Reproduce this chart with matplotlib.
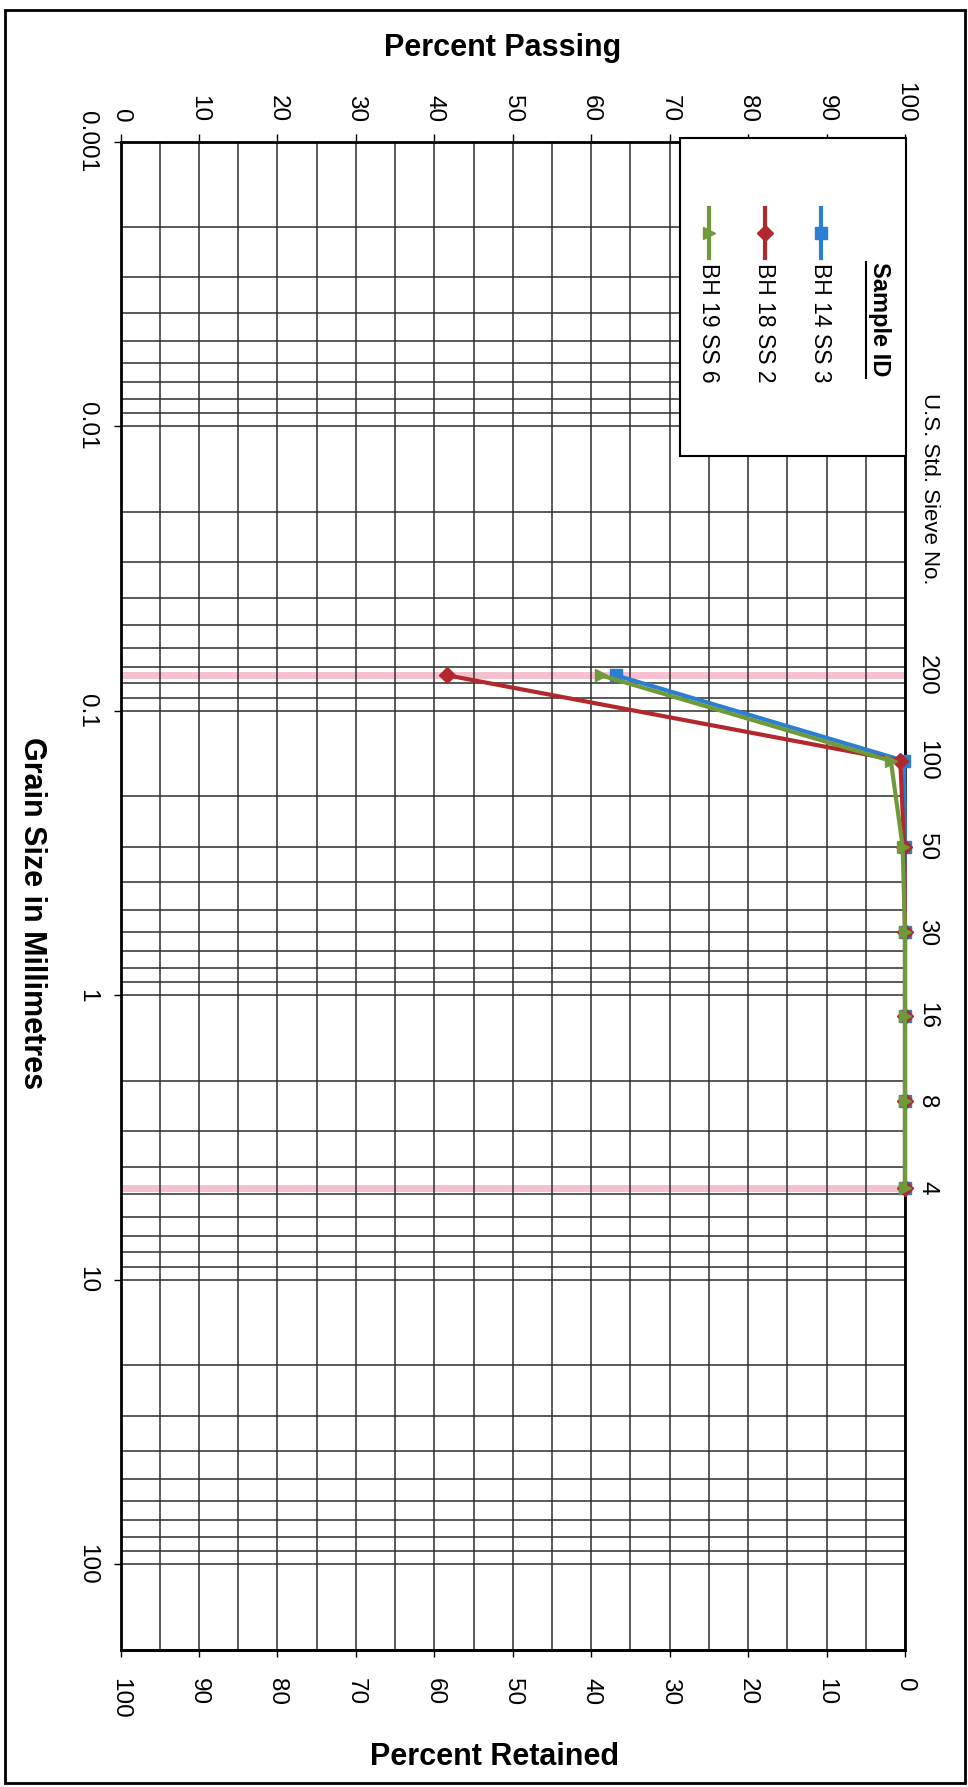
import matplotlib
matplotlib.use('Agg')
import matplotlib.pyplot as plt
import matplotlib.ticker as mticker
from matplotlib.transforms import Affine2D
from matplotlib.lines import Line2D
from matplotlib.patches import Rectangle

## sieve sizes and sample gradations
sieve_no = ['4', '8', '16', '30', '50', '100', '200']
sieve_mm = [4.75, 2.36, 1.18, 0.6, 0.3, 0.15, 0.075]
sample_ids = ['BH 14 SS 3', 'BH 18 SS 2', 'BH 19 SS 6']
passing_bh14 = [100, 100, 100, 100, 100, 99.9, 63.1]
passing_bh18 = [100, 100, 100, 100, 99.9, 99.4, 41.6]
passing_bh19 = [100, 100, 100, 100, 99.7, 98.2, 61.2]
size_ticks = [0.001, 0.01, 0.1, 1, 10, 100]
size_labels = ['0.001', '0.01', '0.1', '1', '10', '100']
pct_ticks = list(range(0, 101, 10))
ref_sizes = [0.075, 4.75]      # pink lines at #200 and #4 sieves

colors = ['#2a7fd4', '#b3282c', '#6f9a3a']
markers = ['s', 'D', '>']

W, H = 968, 1787
plt.rcParams['font.family'] = ['Liberation Sans', 'DejaVu Sans']
fig = plt.figure(figsize=(W/100, H/100), dpi=100)
## page pixel coords, origin top left
px = Affine2D().scale(1/W, -1/H).translate(0, 1) + fig.transFigure

ax = fig.add_axes([120.5/W, 1 - 1650/H, (905 - 120.5)/W, (1650 - 141.7)/H])
ax.set_xlim(0, 100)
ax.set_yscale('log')
ax.set_ylim(200, 0.001)

## grid
ax.set_xticks(pct_ticks)
ax.set_xticks(range(0, 101, 5), minor=True)
ax.set_yticks(size_ticks, size_labels)
ax.yaxis.set_minor_locator(mticker.LogLocator(base=10, subs=range(2, 10), numticks=20))
ax.yaxis.set_minor_formatter(mticker.NullFormatter())
ax.grid(which='both', color='#2e2e2e', lw=1.1)
for s in ax.spines.values():
    s.set_linewidth(2)

ax.tick_params(axis='x', which='major', top=True, bottom=False, labeltop=True,
               labelbottom=False, length=6, width=1, pad=8, labelsize=17.5,
               labelrotation=-90)
ax.tick_params(axis='y', which='major', length=5, width=1, pad=11,
               labelsize=17.5, labelrotation=-90)
ax.tick_params(which='minor', length=0)
for t in ax.get_yticklabels():
    t.set_va('center')

## percent retained along the bottom
sec = ax.secondary_xaxis('bottom', functions=(lambda p: 100 - p, lambda r: 100 - r))
sec.set_xticks(pct_ticks)
sec.tick_params(length=5, width=1, pad=15, labelsize=17.5, labelrotation=-90)
sec.spines['bottom'].set_linewidth(2)

## sieve numbers on the right
sec2 = ax.secondary_yaxis('right')
sec2.set_yticks(sieve_mm, sieve_no)
sec2.yaxis.set_minor_locator(mticker.NullLocator())
sec2.tick_params(length=0, pad=8, labelsize=17.5, labelrotation=-90)
for t in sec2.get_yticklabels():
    t.set_va('center')

for d in ref_sizes:
    ax.axhline(d, color='#f5bfce', lw=5, zorder=1)

for vals, c, m, name in zip([passing_bh14, passing_bh18, passing_bh19],
                            colors, markers, sample_ids):
    ax.plot(vals, sieve_mm, color=c, marker=m, lw=3, ms=8, label=name,
            clip_on=False, zorder=3)

## legend box, drawn by hand as it is turned on its side
fig.add_artist(Rectangle((680, 138), 226, 318, transform=px, fc='white',
                         ec='black', lw=1.5, zorder=5))
fig.text(880, 262, 'Sample ID', transform=px, rotation=-90, ha='center',
         va='top', fontsize=17, fontweight='bold', zorder=7)
fig.add_artist(Line2D([866, 866], [262, 378], transform=px, color='black',
                      lw=1.5, zorder=7))
for x, c, m, name in zip([821, 765, 709], colors, markers, sample_ids):
    fig.add_artist(Line2D([x, x], [208, 258], transform=px, color=c, lw=3, zorder=6))
    fig.add_artist(Line2D([x], [233], transform=px, color=c, marker=m, ms=8,
                          ls='none', zorder=6))
    fig.text(x, 263, name, transform=px, rotation=-90, ha='center', va='top',
             fontsize=16.5, zorder=7)

## titles
fig.text(503, 48, 'Percent Passing', transform=px, ha='center', va='center',
         fontsize=22, fontweight='bold')
fig.text(495, 1757, 'Percent Retained', transform=px, ha='center', va='center',
         fontsize=22, fontweight='bold')
fig.text(32, 913, 'Grain Size in Millimetres', transform=px, rotation=-90,
         ha='center', va='center', fontsize=22, fontweight='bold')
fig.text(930, 489, 'U.S. Std. Sieve No.', transform=px, rotation=-90,
         ha='center', va='center', fontsize=16)

## page frame
fig.add_artist(Rectangle((5, 10), 960, 1773, transform=px, fill=False,
                         ec='black', lw=2))

fig.savefig('out.png', dpi=100)
